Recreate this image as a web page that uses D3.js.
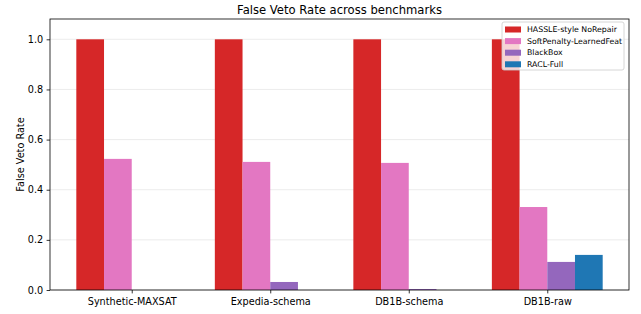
<!DOCTYPE html>
<html>
<head>
<meta charset="utf-8">
<script src="https://cdn.jsdelivr.net/npm/d3@7"></script>
<style>
  body { margin: 0; background: #fff; }
  text { font-family: "DejaVu Sans", sans-serif; }
</style>
</head>
<body>
<div id="chart"></div>
<script>
// Chart data
const benchmarks = ["Synthetic-MAXSAT", "Expedia-schema", "DB1B-schema", "DB1B-raw"];
const methods = ["HASSLE-style NoRepair", "SoftPenalty-LearnedFeat", "BlackBox", "RACL-Full"];
const colors = ["#d62728", "#e377c2", "#9467bd", "#1f77b4"];
const hassleValues = [1.0, 1.0, 1.0, 1.0];
const softPenaltyValues = [0.523, 0.511, 0.507, 0.331];
const blackBoxValues = [0.0, 0.032, 0.004, 0.112];
const raclValues = [0.0, 0.0, 0.0, 0.14];
const seriesValues = [hassleValues, softPenaltyValues, blackBoxValues, raclValues];
const yTicks = [0.0, 0.2, 0.4, 0.6, 0.8, 1.0];

const W = 641, H = 314;
const margin = { top: 19, right: 12, bottom: 24, left: 50 };
const width = W - margin.left - margin.right;
const height = H - margin.top - margin.bottom;

const svg = d3.select("#chart").append("svg")
  .attr("width", W)
  .attr("height", H);

const g = svg.append("g")
  .attr("transform", "translate(" + margin.left + "," + margin.top + ")");

// Scales (matplotlib-like linear x with bar width 0.2)
const barW = 0.2;
const x = d3.scaleLinear().domain([-0.59, 3.59]).range([0, width]);
const y = d3.scaleLinear().domain([0, 1.081]).range([height, 0]);

// Grid
g.append("g")
  .selectAll("line")
  .data(yTicks)
  .enter()
  .append("line")
  .attr("x1", 0)
  .attr("x2", width)
  .attr("y1", d => y(d))
  .attr("y2", d => y(d))
  .style("stroke", "#b0b0b0")
  .style("stroke-opacity", 0.3)
  .style("stroke-width", 0.8);

// Bars
seriesValues.forEach((vals, si) => {
  g.append("g")
    .selectAll("rect")
    .data(vals)
    .enter()
    .append("rect")
    .attr("x", (d, i) => x(i + (si - 2) * barW))
    .attr("width", x(barW) - x(0))
    .attr("y", d => y(d))
    .attr("height", d => y(0) - y(d))
    .style("fill", colors[si]);
});

// Axes
const xAxis = g.append("g")
  .attr("transform", "translate(0," + height + ")")
  .call(d3.axisBottom(x).tickValues(d3.range(benchmarks.length)).tickFormat(i => benchmarks[i]).tickSizeOuter(0).tickSize(3.4).tickPadding(3.4));
xAxis.selectAll("text").style("font-size", "9.7px").style("fill", "#000").attr("dy", "0.8em");
xAxis.select(".domain").remove();

const yAxis = g.append("g")
  .call(d3.axisLeft(y).tickValues(yTicks).tickFormat(d3.format(".1f")).tickSizeOuter(0).tickSize(3.4).tickPadding(3.4));
yAxis.selectAll("text").style("font-size", "9.7px").style("fill", "#000");
yAxis.select(".domain").remove();
g.selectAll(".tick line").style("stroke", "#000").style("stroke-width", 0.8);

// Frame
g.append("rect")
  .attr("width", width)
  .attr("height", height)
  .style("fill", "none")
  .style("stroke", "#000")
  .style("stroke-width", 0.8);

// Title
svg.append("text")
  .attr("x", margin.left + width / 2)
  .attr("y", 13.5)
  .attr("text-anchor", "middle")
  .style("font-size", "11.6px")
  .text("False Veto Rate across benchmarks");

// Y label
svg.append("text")
  .attr("transform", "translate(23.5," + (margin.top + height / 2) + ") rotate(-90)")
  .attr("text-anchor", "middle")
  .style("font-size", "9.7px")
  .text("False Veto Rate");

// Legend
const legend = g.append("g").attr("transform", "translate(452,3)");
legend.append("rect")
  .attr("width", 122)
  .attr("height", 48)
  .attr("rx", 2)
  .style("fill", "#fff")
  .style("fill-opacity", 0.8)
  .style("stroke", "#cccccc")
  .style("stroke-width", 0.8);
methods.forEach((m, i) => {
  const row = legend.append("g").attr("transform", "translate(3," + (7.5 + i * 11.6) + ")");
  row.append("rect").attr("x", 0).attr("y", -3).attr("width", 16).attr("height", 6).style("fill", colors[i]);
  row.append("text").attr("x", 22).attr("y", 0).attr("dy", "0.35em").style("font-size", "7.8px").text(m);
});
</script>
</body>
</html>
